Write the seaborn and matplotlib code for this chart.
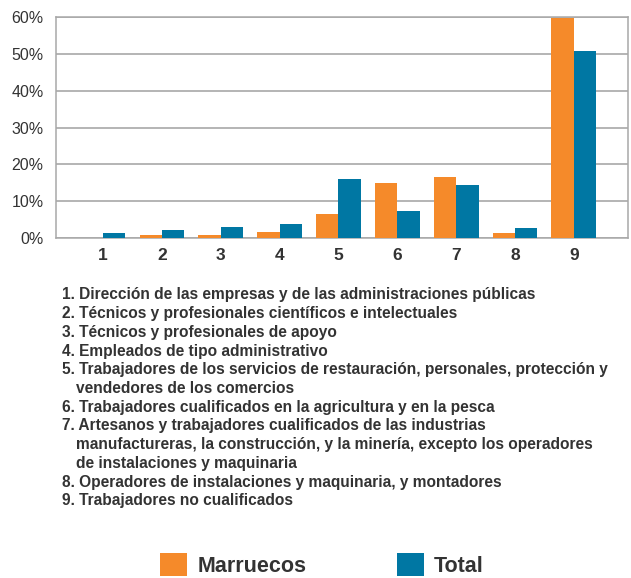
import matplotlib
matplotlib.use('Agg')
import matplotlib.pyplot as plt
import seaborn as sns
import pandas as pd
from matplotlib.ticker import PercentFormatter
from matplotlib.patches import Patch

categorias = ['1', '2', '3', '4', '5', '6', '7', '8', '9']
marruecos = [0.0, 0.85, 0.85, 1.6, 6.5, 14.8, 16.5, 1.4, 59.8]
total = [1.4, 2.1, 2.9, 3.9, 15.9, 7.3, 14.5, 2.65, 50.8]
series = ['Marruecos', 'Total']
colores = ['#F58A2A', '#0077A3']

notas = [
    ('1.', 'Dirección de las empresas y de las administraciones públicas'),
    ('2.', 'Técnicos y profesionales científicos e intelectuales'),
    ('3.', 'Técnicos y profesionales de apoyo'),
    ('4.', 'Empleados de tipo administrativo'),
    ('5.', 'Trabajadores de los servicios de restauración, personales, protección y'),
    ('', 'vendedores de los comercios'),
    ('6.', 'Trabajadores cualificados en la agricultura y en la pesca'),
    ('7.', 'Artesanos y trabajadores cualificados de las industrias'),
    ('', 'manufactureras, la construcción, y la minería, excepto los operadores'),
    ('', 'de instalaciones y maquinaria'),
    ('8.', 'Operadores de instalaciones y maquinaria, y montadores'),
    ('9.', 'Trabajadores no cualificados'),
]

sns.set_style('white')
plt.rcParams['font.family'] = ['Liberation Sans', 'DejaVu Sans']

df = pd.DataFrame({
    'cat': categorias * 2,
    'serie': [series[0]] * len(categorias) + [series[1]] * len(categorias),
    'valor': marruecos + total,
})

W, H = 631, 578
fig = plt.figure(figsize=(W / 100, H / 100), dpi=100)
ax = fig.add_axes([56 / W, 1 - 238 / H, (628 - 56) / W, (238 - 17) / H])

sns.barplot(data=df, x='cat', y='valor', hue='serie', palette=colores,
            width=0.76, saturation=1, ax=ax, legend=False, zorder=3,
            linewidth=0, edgecolor='none')

ax.set_xlim(-0.8, 8.92)
ax.set_ylim(0, 60)
ax.set_yticks(range(0, 61, 10))
ax.yaxis.set_major_formatter(PercentFormatter(decimals=0))
ax.grid(axis='y', color='#a0a0a0', linewidth=1.1, zorder=0)
for s in ax.spines.values():
    s.set_color('#a8a8a8')
    s.set_linewidth(1.1)
ax.set_xlabel('')
ax.set_ylabel('')
ax.tick_params(axis='both', length=0, colors='#333333')
ax.tick_params(axis='y', labelsize=11.5, pad=9)
ax.tick_params(axis='x', labelsize=12.5, pad=7)
for t in ax.get_xticklabels():
    t.set_fontweight('bold')

y0 = 295
dy = 18.7
for i, (num, txt) in enumerate(notas):
    y = 1 - (y0 + i * dy) / H
    if num:
        fig.text(62 / W, y, num + ' ' + txt, fontsize=11.2, fontweight='bold',
                 color='#333333', va='center')
    else:
        fig.text(76 / W, y, txt, fontsize=11.2, fontweight='bold',
                 color='#333333', va='center')

handles = [Patch(facecolor=c, edgecolor='none', label=s) for c, s in zip(colores, series)]
leg = fig.legend(handles=handles, loc='center left', bbox_to_anchor=(141 / W, 1 - 565 / H),
                 ncol=2, frameon=False, prop={'size': 15.5, 'weight': 'bold'},
                 handlelength=1.25, handleheight=1.25, handletextpad=0.46,
                 columnspacing=4.2, labelcolor='#333333')

fig.savefig('out.png', dpi=100)
